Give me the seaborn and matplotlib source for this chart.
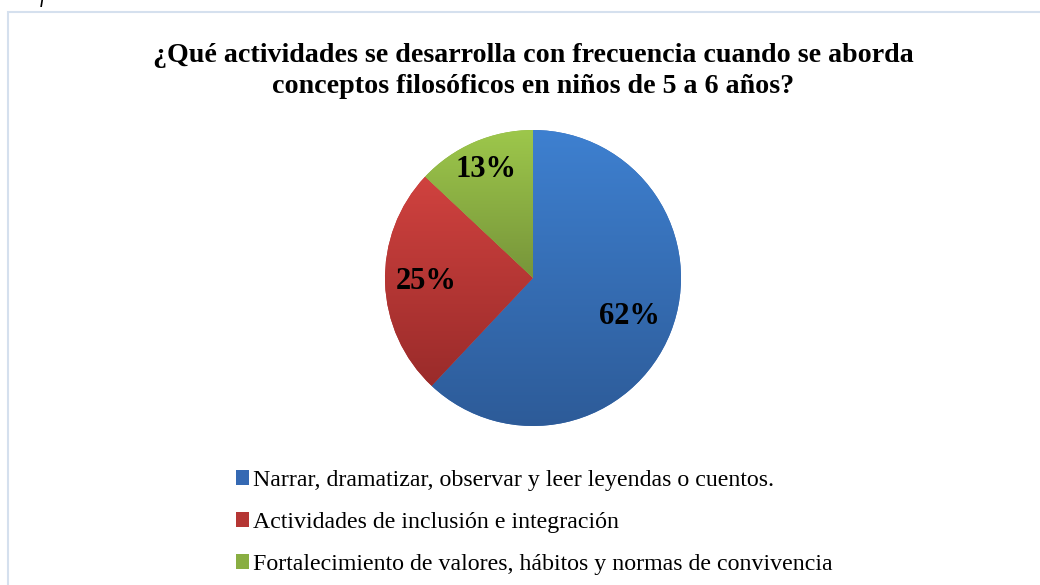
import numpy as np
import matplotlib
matplotlib.use("Agg")
import matplotlib.pyplot as plt
import seaborn as sns
from matplotlib.colors import LinearSegmentedColormap
from matplotlib.patches import Rectangle

# ---- data ----
categories = [
    "Narrar, dramatizar, observar y leer leyendas o cuentos.",
    "Actividades de inclusión e integración",
    "Fortalecimiento de valores, hábitos y normas de convivencia",
]
values = [62, 25, 13]
pct_labels = ["62%", "25%", "13%"]
title_lines = ["¿Qué actividades se desarrolla con frecuencia cuando se aborda",
               "conceptos filosóficos en niños de 5 a 6 años?"]

top_colors = ["#3E80D0", "#D0423F", "#9DC74B"]
bot_colors = ["#2D5B98", "#9A2B2A", "#77953A"]
mid_colors = ["#3569B3", "#B53634", "#89AE42"]
label_dist = [0.70, 0.72, 0.80]

sns.set_theme(style="white")
plt.rcParams["font.family"] = ["Liberation Serif", "DejaVu Serif"]
plt.rcParams["text.color"] = "black"

W, H = 1040, 585
fig = plt.figure(figsize=(W / 100, H / 100), dpi=100)
fig.patch.set_facecolor("white")

# chart border (extends beyond the right/bottom edge)
fig.patches.append(Rectangle((8 / W, -0.05), 1.2, 1 - 12 / H + 0.05,
                             transform=fig.transFigure, fill=False,
                             edgecolor="#D5E0EE", linewidth=1.5))
# cropped caption fragment at top-left
fig.text(40 / W, 1 - 2 / H, "f", fontstyle="italic", fontsize=15,
         ha="left", va="baseline", color="black")

# title (two centred lines)
for line, yb in zip(title_lines, [62, 93]):
    fig.text(533 / W, 1 - yb / H, line, ha="center", va="baseline",
             fontsize=20.2, fontweight="bold", color="black")

# pie axes
cx, cy, R = 533, 278, 148
ax = fig.add_axes([(cx - R) / W, (H - cy - R) / H, 2 * R / W, 2 * R / H])
wedges, texts, autotexts = ax.pie(
    values, labels=None, colors=mid_colors, startangle=90, counterclock=False,
    autopct=lambda p: "", pctdistance=0.72, radius=1.0,
    wedgeprops=dict(linewidth=0, edgecolor="none"))

# gradient fills clipped to each wedge
for w, tc, bc in zip(wedges, top_colors, bot_colors):
    path = w.get_path().transformed(w.get_patch_transform())
    verts = path.vertices
    ymin, ymax = verts[:, 1].min(), verts[:, 1].max()
    cmap = LinearSegmentedColormap.from_list("g", [bc, tc])
    grad = np.linspace(0, 1, 256).reshape(-1, 1)
    im = ax.imshow(grad, cmap=cmap, origin="lower", aspect="auto",
                   extent=(-1, 1, ymin, ymax), zorder=w.get_zorder() + 0.1,
                   interpolation="bilinear")
    im.set_clip_path(w)
ax.set_xlim(-1, 1)
ax.set_ylim(-1, 1)
ax.set_aspect("equal")
ax.axis("off")

for t, lab, w, d in zip(autotexts, pct_labels, wedges, label_dist):
    ang = np.deg2rad((w.theta1 + w.theta2) / 2)
    t.set_position((d * np.cos(ang), d * np.sin(ang)))
    t.set_text(lab)
    t.set_fontsize(22)
    t.set_fontweight("bold")
    t.set_color("black")
    t.set_zorder(5)

# legend
handles = [Rectangle((0, 0), 1, 1, facecolor=c, edgecolor="none") for c in mid_colors]
leg = fig.legend(handles, categories, loc="upper left",
                 bbox_to_anchor=(236 / W, 1 - 470 / H), frameon=False,
                 fontsize=17.2, handlelength=0.55, handleheight=0.55,
                 handletextpad=0.18, labelspacing=0.88, borderpad=0,
                 borderaxespad=0, labelcolor="black")

fig.savefig("out.png", dpi=100)
